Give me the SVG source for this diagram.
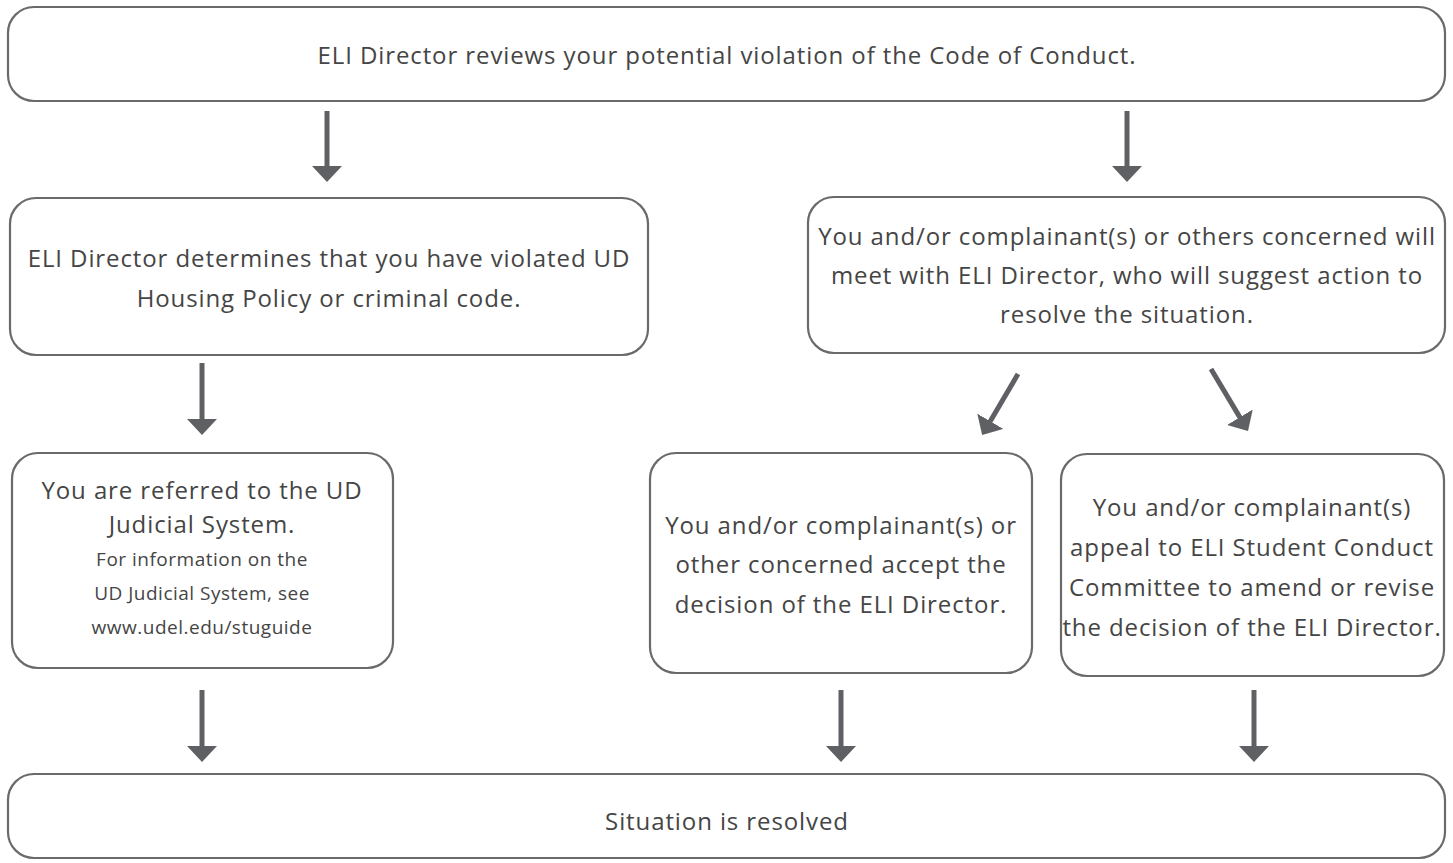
<svg xmlns="http://www.w3.org/2000/svg" width="1453" height="863" viewBox="0 0 1453 863">
<style>
.box{fill:#fff;stroke:#6a6a6a;stroke-width:2.2}
.t{font-family:"Open Sans","Liberation Sans",sans-serif;font-size:24px;letter-spacing:0.9px;fill:#454545;text-anchor:middle}
.s{font-size:19px;letter-spacing:0.5px}
.arr{stroke:#5f6063;stroke-width:5;fill:none;marker-end:url(#ah)}
</style>
<defs>
<marker id="ah" markerUnits="userSpaceOnUse" markerWidth="16" markerHeight="30" viewBox="0 0 16 30" refX="6" refY="15" orient="auto">
<path d="M0,0 L16,15 L0,30 Z" fill="#5f6063"/>
</marker>
</defs>
<rect width="1453" height="863" fill="#fff"/>
<g id="connectors">
<line class="arr" x1="327" y1="111" x2="327" y2="172"/>
<line class="arr" x1="1127" y1="111" x2="1127" y2="172"/>
<line class="arr" x1="202" y1="363" x2="202" y2="425"/>
<line class="arr" x1="1018" y1="374" x2="987.2" y2="426.4"/>
<line class="arr" x1="1211" y1="369" x2="1242.9" y2="422.4"/>
<line class="arr" x1="202" y1="690" x2="202" y2="752"/>
<line class="arr" x1="841" y1="690" x2="841" y2="752"/>
<line class="arr" x1="1254" y1="690" x2="1254" y2="752"/>
</g>
<g id="n1">
<rect class="box" x="8" y="7" width="1437" height="94" rx="26"/>
<text class="t" x="727" y="64">ELI Director reviews your potential violation of the Code of Conduct.</text>
</g>
<g id="n2">
<rect class="box" x="10" y="198" width="638" height="157" rx="26"/>
<text class="t" x="329" y="267">ELI Director determines that you have violated UD</text>
<text class="t" x="329" y="307">Housing Policy or criminal code.</text>
</g>
<g id="n3">
<rect class="box" x="808" y="197" width="637" height="156" rx="26"/>
<text class="t" x="1127" y="245">You and/or complainant(s) or others concerned will</text>
<text class="t" x="1127" y="284">meet with ELI Director, who will suggest action to</text>
<text class="t" x="1127" y="323">resolve the situation.</text>
</g>
<g id="n4">
<rect class="box" x="12" y="453" width="381" height="215" rx="26"/>
<text class="t" x="202" y="499">You are referred to the UD</text>
<text class="t" x="202" y="533">Judicial System.</text>
<text class="t s" x="202" y="566">For information on the</text>
<text class="t s" x="202" y="600">UD Judicial System, see</text>
<text class="t s" x="202" y="634">www.udel.edu/stuguide</text>
</g>
<g id="n5">
<rect class="box" x="650" y="453" width="382" height="220" rx="26"/>
<text class="t" x="841" y="534">You and/or complainant(s) or</text>
<text class="t" x="841" y="573">other concerned accept the</text>
<text class="t" x="841" y="613">decision of the ELI Director.</text>
</g>
<g id="n6">
<rect class="box" x="1061" y="454" width="383" height="222" rx="26"/>
<text class="t" x="1252" y="516">You and/or complainant(s)</text>
<text class="t" x="1252" y="556">appeal to ELI Student Conduct</text>
<text class="t" x="1252" y="596">Committee to amend or revise</text>
<text class="t" x="1252" y="636">the decision of the ELI Director.</text>
</g>
<g id="n7">
<rect class="box" x="8" y="774" width="1437" height="84" rx="26"/>
<text class="t" x="727" y="830">Situation is resolved</text>
</g>
</svg>
